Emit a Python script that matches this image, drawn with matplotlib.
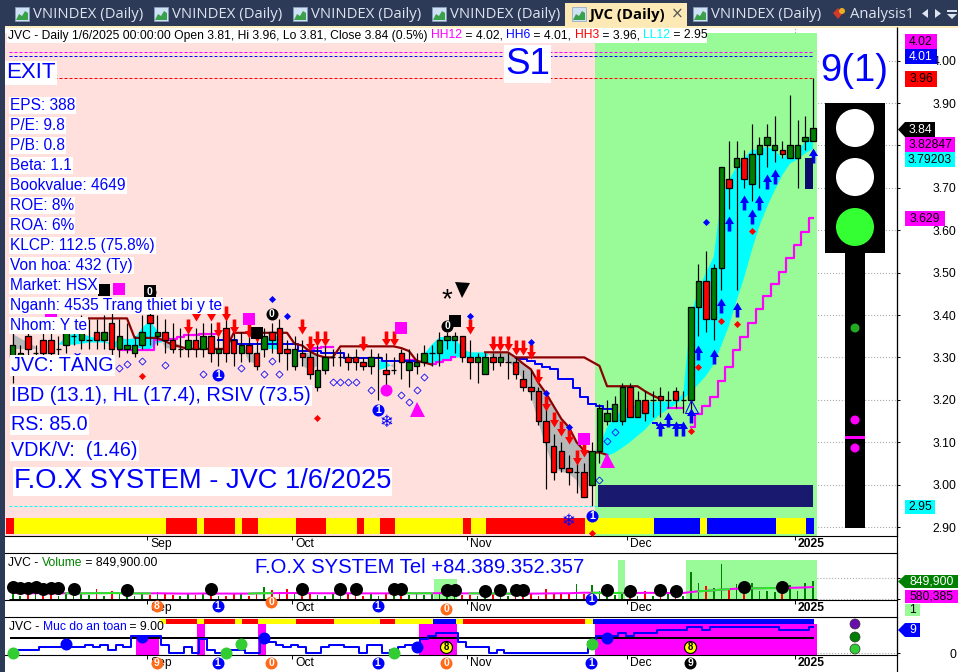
import numpy as np
import matplotlib
matplotlib.use('Agg')
import matplotlib.pyplot as plt
from matplotlib.patches import Rectangle, Polygon, Circle
from matplotlib.path import Path

plt.rcParams['font.family'] = ['Liberation Sans', 'DejaVu Sans']
N = float('nan')

# ---- candles, one row per session: open, high, low, close
ohlc = [
 (3.30,3.36,3.24,3.33),(3.30,3.33,3.28,3.31),(3.35,3.37,3.28,3.32),(3.31,3.33,3.28,3.31),(3.34,3.36,3.29,3.31),
 (3.34,3.36,3.29,3.31),(3.32,3.35,3.30,3.32),(3.33,3.39,3.31,3.36),(3.35,3.39,3.33,3.35),(3.34,3.40,3.32,3.36),
 (3.34,3.39,3.32,3.34),(3.36,3.39,3.32,3.34),(3.34,3.40,3.32,3.36),(3.38,3.41,3.30,3.32),(3.32,3.39,3.30,3.35),
 (3.32,3.38,3.31,3.33),(3.31,3.35,3.30,3.33),(3.33,3.40,3.32,3.36),(3.40,3.43,3.33,3.38),(3.35,3.40,3.33,3.36),
 (3.36,3.39,3.31,3.34),(3.34,3.38,3.31,3.32),(3.32,3.37,3.30,3.32),(3.32,3.37,3.30,3.34),(3.34,3.37,3.30,3.32),
 (3.32,3.38,3.30,3.35),(3.35,3.38,3.29,3.31),(3.31,3.36,3.28,3.32),(3.37,3.40,3.29,3.31),(3.34,3.37,3.28,3.31),
 (3.31,3.36,3.29,3.33),(3.33,3.37,3.29,3.31),(3.31,3.34,3.27,3.28),(3.32,3.37,3.30,3.35),(3.36,3.38,3.31,3.34),
 (3.37,3.39,3.29,3.31),(3.32,3.34,3.27,3.31),(3.28,3.35,3.27,3.32),(3.31,3.34,3.28,3.30),(3.30,3.34,3.25,3.26),
 (3.23,3.33,3.22,3.27),(3.27,3.33,3.26,3.30),(3.30,3.32,3.28,3.30),(3.30,3.32,3.28,3.30),(3.30,3.31,3.27,3.29),
 (3.30,3.32,3.27,3.29),(3.29,3.30,3.27,3.28),(3.28,3.32,3.26,3.30),(3.30,3.31,3.20,3.30),(3.27,3.31,3.23,3.26),
 (3.27,3.30,3.26,3.27),(3.31,3.32,3.25,3.29),(3.27,3.32,3.23,3.29),(3.28,3.31,3.26,3.29),(3.29,3.33,3.28,3.31),
 (3.31,3.33,3.28,3.31),(3.31,3.36,3.28,3.34),(3.34,3.36,3.32,3.35),(3.34,3.36,3.31,3.35),(3.35,3.35,3.29,3.30),
 (3.30,3.34,3.25,3.29),(3.29,3.31,3.24,3.30),(3.26,3.31,3.26,3.30),(3.30,3.31,3.27,3.29),(3.29,3.31,3.28,3.30),
 (3.29,3.31,3.25,3.29),(3.29,3.30,3.25,3.26),(3.25,3.27,3.22,3.23),(3.23,3.27,3.20,3.22),(3.22,3.23,3.14,3.15),
 (3.15,3.19,2.99,3.10),(3.09,3.12,3.01,3.03),(3.08,3.10,3.03,3.04),(3.04,3.07,3.00,3.03),(3.03,3.06,2.98,3.03),
 (3.03,3.05,2.97,2.97),(3.00,3.10,2.95,3.08),(3.08,3.19,3.05,3.18),(3.15,3.20,3.14,3.17),(3.15,3.21,3.15,3.19),
 (3.15,3.24,3.14,3.23),(3.23,3.24,3.16,3.16),(3.16,3.22,3.16,3.20),(3.20,3.22,3.15,3.17),(3.20,3.22,3.16,3.20),
 (3.21,3.23,3.16,3.20),(3.20,3.22,3.18,3.20),(3.22,3.23,3.18,3.20),(3.20,3.22,3.17,3.20),(3.20,3.42,3.17,3.42),
 (3.42,3.52,3.35,3.48),(3.48,3.55,3.36,3.39),(3.39,3.52,3.34,3.51),(3.51,3.75,3.46,3.75),(3.72,3.81,3.65,3.70),
 (3.75,3.81,3.46,3.77),(3.77,3.79,3.70,3.72),(3.71,3.85,3.67,3.78),(3.78,3.82,3.70,3.80),(3.80,3.85,3.75,3.82),
 (3.79,3.87,3.76,3.80),(3.79,3.81,3.77,3.78),(3.77,3.92,3.77,3.80),(3.77,3.86,3.70,3.80),(3.81,3.87,3.79,3.82),
 (3.81,3.96,3.81,3.84),
]

# cloud edges; fast above slow is cyan, below it grey
fast = [3.32,3.32,3.32,3.32,N,N,3.33,3.35,3.356,3.356,3.35,3.345,3.34,3.33,3.345,3.343,3.345,3.37,3.387,3.363,
        3.322,3.32,3.325,N,N,N,N,N,N,N,3.33,3.29,3.285,3.34,3.35,3.35,N,N,3.28,3.27,
        3.28,N,N,N,N,N,N,N,3.295,3.29,3.275,N,N,N,3.308,3.33,3.348,3.348,3.348,3.32,
        3.312,3.312,3.312,3.30,3.30,3.288,3.277,3.245,3.21,3.147,3.087,3.04,3.03,3.026,3.01,2.965,3.07,3.09,3.135,3.16,
        3.175,3.182,3.19,3.194,3.195,3.196,3.196,3.196,3.215,3.40,3.46,3.50,3.537,3.68,3.718,3.75,3.77,3.79,3.79,3.797,
        3.789,3.77,3.785,3.785,3.81,3.828]
slow = [3.355,3.345,3.335,3.325,N,N,3.33,3.33,3.33,3.332,3.335,3.335,3.335,3.33,3.32,3.32,3.325,3.32,3.318,3.335,
        3.335,3.335,3.33,N,N,N,N,N,N,N,3.33,3.31,3.308,3.32,3.32,3.318,N,N,3.312,3.31,
        3.31,N,N,N,N,N,N,N,3.27,3.275,3.285,N,N,N,3.285,3.287,3.29,3.295,3.30,3.30,
        3.30,3.30,3.30,3.312,3.312,3.312,3.30,3.285,3.272,3.24,3.215,3.185,3.155,3.135,3.10,3.08,3.075,3.08,3.068,3.075,
        3.087,3.10,3.115,3.13,3.15,3.166,3.178,3.19,3.202,3.218,3.237,3.257,3.284,3.328,3.375,3.434,3.489,3.553,3.61,3.655,
        3.694,3.73,3.757,3.767,3.781,3.792]

# line pieces as (first session, values)
brown = [(0, [3.392]*16 + [3.346,3.346,3.346,3.346,3.338,3.33,3.325,3.32,3.32,3.32,3.32,3.32,3.32]
            + [3.358]*8 + [3.332,3.328,3.314,3.305,3.30,3.30] + [3.326]*8 + [3.322,3.315,3.292,3.288,3.283]),
         (62, [3.312,3.312,3.312,3.312,3.30,3.285,3.272,3.24,3.215,3.185,3.155,3.135,3.10,3.08,3.075,3.076,3.07]),
         (66, [3.30]*10 + [3.29,3.28,3.232,3.232,3.232,3.232,3.232,3.22,3.21,3.202])]
blue_line = [(27, [3.34,3.34,3.34] + [3.332]*8 + [3.316]*3 + [3.31]*3 + [3.298]*5 + [3.292]*5),
             (66, [3.299,3.296,3.292,3.285,3.277,3.273,3.25,3.25,3.228,3.206,3.19,3.186,3.178,3.178]),
             (84, [3.145,3.14,3.14,3.14,3.14])]
magenta_line = [(14, [3.318]*5 + [3.34,3.34,3.344,3.347,3.352,3.352,3.356,3.356,3.356]),
                (39, [3.32,3.322,3.324,3.324]),
                (51, [3.295,3.295,3.295]),
                (55, [3.285,3.29,3.295,3.30]),
                (86, [3.18,3.18,3.18]),
                (89, [3.135,3.166,3.186,3.207,3.245,3.278,3.318,3.349,3.381,3.413,3.444,3.472,3.502,3.534,3.564,3.595,3.629])]

# signals: session, price
red_arrows = [(23,3.355),(24,3.385),(26,3.385),(27,3.348),(28,3.385),(29,3.355),(31,3.346),(32,3.336),(38,3.355),
              (39,3.316),(40,3.326),(41,3.326),(46,3.314),(49,3.326),(50,3.326),(60,3.355),(63,3.314),(64,3.314),
              (65,3.314),(66,3.305),(67,3.305),(68,3.296),(69,3.237),(70,3.174),(71,3.135),(72,3.115),(73,3.095),
              (74,3.046),(75,3.064)]
blue_arrows = [(85,3.15),(86,3.172),(87,3.15),(88,3.15),(89,3.18),(90,3.33),(92,3.32),(93,3.44),(95,3.43),(94,3.633),
               (96,3.682),(97,3.651),(98,3.682),(99,3.732),(100,3.744),(105,3.793)]
red_dots = [(97,3.597),(93,3.387),(95,3.378),(90,3.278),(89,3.127),(17,3.257),(40,3.158),(76,2.885)]
blue_dots = [(91,3.619),(34,3.437),(36,3.397),(60,3.397),(68,3.337),(70,3.217),(73,3.137)]
hollow_dots = [(14,3.274),(15,3.285),(17,3.292),(20,3.283),(25,3.262),(30,3.274),(33,3.262),(34,3.292),(35,3.262),
               (42,3.243),(43,3.243),(44,3.243),(45,3.243),(47,3.222),(51,3.212),(52,3.194),(53,3.222),(54,3.253),
               (78,3.103),(79,3.123),(77,3.011)]
magenta_squares = [(14,3.461),(31,3.391),(51,3.369),(75,3.108),(5,3.405)]
black_squares = [(12,3.459),(32,3.358),(58,3.386),(18,3.457)]
blue_ones = [(48,3.176),(76,2.926),(27,3.258)]
black_zeros = [(34,3.402),(57,3.374),(18,3.455)]

strip_colors = ['red','yellow','red','yellow','red','yellow','red','yellow','red','yellow','red','yellow','red','yellow',
                'red','yellow','red','yellow','blue','yellow','blue','yellow','blue']
strip_runs = [1,20,4,1,4,1,2,5,4,4,1,2,2,9,1,2,13,9,6,1,9,4,1]
top_strip_colors = ['yellow','red','yellow','red','yellow','red','yellow','red','yellow','red','yellow','blue','yellow','red','yellow','blue']
top_strip_runs = [1,4,1,4,1,2,5,5,6,2,5,3,1,16,1,29]

# volume in thousands of shares
volume = [283,140,235,235,140,190,140,330,190,283,190,470,140,380,283,140,140,283,190,330,
          235,190,140,283,190,283,190,140,140,235,283,140,235,566,425,330,470,283,190,283,
          190,140,235,235,283,235,140,283,140,283,235,235,190,235,190,283,283,190,190,190,
          190,140,190,235,140,140,140,235,283,140,470,235,283,283,708,235,660,380,190,190,
          283,140,140,380,140,140,235,140,140,1274,755,613,519,1650,425,708,283,755,380,380,
          330,283,660,380,755,849.9]
volume_ma = [300,295,290,285,285,280,280,285,280,280,285,290,290,295,290,285,280,280,280,285,
             280,275,270,270,270,275,275,270,270,270,270,270,280,290,290,295,295,295,290,290,
             285,285,285,285,285,285,280,280,280,280,285,285,285,280,285,285,290,285,285,280,
             280,280,275,275,270,270,270,270,270,270,280,280,285,285,300,310,310,305,300,300,
             300,300,300,305,305,300,300,300,300,340,380,400,420,460,480,500,510,520,520,530,
             530,530,540,550,560,580.385]
volume_green = [(7,18),(31,34),(50,55),(60,66),(76,80),(90,94),(97,100)]
volume_circles = [(0,570),(1,520),(2,520),(3,570),(4,470),(5,520),(6,520),(8,470),(15,420),(26,470),(38,470),(43,470),(45,470),
                  (50,470),(51,470),(57,420),(58,420),(62,380),(64,440),(66,440),(67,440),(78,440),(81,380),(85,440),(87,380),
                  (96,570),(101,570)]
volume_spans = [(55.3,58.3,0.45),(79.4,80.4,0.85),(88.4,105.55,0.85)]

# safety score per session
safety = [1,1,1,1,2,2,2,2,2,2,3,2,3,1,3,2,6,6,6,6,3,0,0,2,0,5,1,0,0,1,1,0,0,5,4,3,2,3,2,0,0,2,3,3,2,2,0,3,3,0,1,2,3,3,5,
          6,7,7,7,4,2,2,2,0,1,0,0,0,0,0,0,0,0,0,0,0,4,6,6,6,7,6,7,7,7,8,8,8,8,9,9,8,9,9,9,9,9,9,9,9,9,8,8,8,8,9]
safety_spans = [(16.2,19.2,0.55),(24.2,25.2,0.816),(32.2,33.2,0.816),(53.3,58.3,0.816),(76.4,105.55,0.816)]
safety_green = [(0,0),(28,0),(30,3.2),(50,0),(76,3.2)]
safety_blue = [(7,3.2),(17,5.6),(33,5.2),(53,2.2),(78,5.4)]

month_pos = [18,37,60,81,103]
month_labels = ['Sep','Oct','Nov','Dec','2025']
price_ticks = [2.90,3.00,3.10,3.20,3.30,3.40,3.50,3.60,3.70,3.80,3.90,4.00]

info_lines = ['EPS: 388','P/E: 9.8','P/B: 0.8','Beta: 1.1','Bookvalue: 4649','ROE: 8%','ROA: 6%','KLCP: 112.5 (75.8%)',
              'Von hoa: 432 (Ty)','Market: HSX','Nganh: 4535 Trang thiet bi y te','Nhom: Y te']

PINK = '#ffe0dc'
LIME = '#98fb98'
NAVY = '#2c3a57'
W, H = 958, 672

fig = plt.figure(figsize=(W/100, H/100), dpi=100, facecolor='white')
def pane(top, bottom):
    a = fig.add_axes([5/W, 1-bottom/H, 892/W, (bottom-top)/H])
    a.set_xlim(-1.01, 116.05)
    a.patch.set_alpha(0)
    for s in ['left','top']:
        a.spines[s].set_visible(False)
    ticks = [p-0.35 for p in month_pos]
    a.set_xticks(ticks, [''] * len(ticks))
    for t, lab in zip(ticks, month_labels):
        a.annotate(lab, xy=(t, 0), xycoords=a.get_xaxis_transform(), xytext=(2.2, -1.6), textcoords='offset points',
                   va='top', fontsize=8.7, fontweight='bold' if lab == '2025' else 'normal', annotation_clip=False)
    a.tick_params(axis='x', length=3, width=0.7)
    a.yaxis.tick_right()
    a.tick_params(axis='y', length=2.5, width=0.7, pad=40.5, labelsize=8.7)
    return a
def ms(px):
    return px*0.72

main = pane(27, 536)
vol = pane(553, 600)
safe = pane(617, 655)
vol.spines['top'].set_visible(True)
safe.spines['top'].set_visible(True)
ui = fig.add_axes([0, 0, 1, 1], zorder=20)
ui.set_xlim(0, W); ui.set_ylim(H, 0); ui.axis('off')

x = np.arange(len(ohlc))
o, h, l, c = [np.array(v) for v in zip(*ohlc)]

# main pane ------------------------------------------------------------
main.set_ylim(3.90-433/424, 3.90+76/424)
# 3.80 sits under the value tags in the reference, so its label stays blank
main.set_yticks(price_ticks, ['' if t == 3.80 else '%.2f' % t for t in price_ticks])
for lab in main.get_yticklabels():
    lab.set_ha('right')
main.grid(True, color='#aaaaaa', ls=':', lw=0.8)
main.set_axisbelow(True)
main.axvspan(-1.01, 76.4, 0, 0.988, color=PINK, lw=0, zorder=1)
main.axvspan(76.4, 105.55, 0, 0.988, color=LIME, lw=0, zorder=1)

f, s = np.array(fast), np.array(slow)
main.fill_between(x, s, f, where=f >= s, color='cyan', lw=0, zorder=2, interpolate=True)
main.fill_between(x, s, f, where=f <= s, color='#b8b8b8', lw=0, zorder=2, interpolate=True)

for start, vals in magenta_line:
    main.plot(range(start, start+len(vals)), vals, color='magenta', lw=ms(2.2), drawstyle='steps-mid', zorder=3)
for start, vals in blue_line:
    main.plot(range(start, start+len(vals)), vals, color='blue', lw=ms(2), drawstyle='steps-mid', zorder=3)
for start, vals in brown:
    main.plot(range(start, start+len(vals)), vals, color='#8b0000', lw=ms(2.2), zorder=3)

main.vlines(x, l, h, color='black', lw=ms(1.2), zorder=4)
colors = ['#008000' if b >= a else 'red' for a, b in zip(o, c)]
main.bar(x, c-o, bottom=o, width=0.72, color=colors, edgecolor='black', lw=ms(1.3), zorder=5)

# dashed levels
for level, col in [(4.02,'magenta'),(4.01,'blue'),(3.96,'red'),(2.95,'cyan')]:
    main.hlines(level, -0.5, 105.2, color=col, lw=ms(1), linestyles=(0,(3,2)), zorder=6)

# strip under the candles
pos = -0.85
cells, cell_cols = [], []
for col, run in zip(strip_colors, strip_runs):
    cells.append((pos, run)); cell_cols.append(col); pos += run
main.broken_barh(cells, (0.004, 0.031), facecolors=cell_cols, transform=main.get_xaxis_transform(), zorder=6)

down = Path([(0,0),(0.3,0.5),(0.12,0.5),(0.12,1),(-0.12,1),(-0.12,0.5),(-0.3,0.5),(0,0)])
up = Path([(0,0),(0.3,-0.5),(0.12,-0.5),(0.12,-1),(-0.12,-1),(-0.12,-0.5),(-0.3,-0.5),(0,0)])
def pts(a):
    return [p[0] for p in a], [p[1] for p in a]
main.plot(*pts(red_arrows), ls='', marker=down, ms=ms(30), mfc='red', mew=0, zorder=7)
main.plot(*pts(blue_arrows), ls='', marker=up, ms=ms(30), mfc='blue', mew=0, zorder=7)
main.plot(*pts(red_dots), ls='', marker='D', ms=ms(5), mfc='red', mew=0, zorder=7, clip_on=False)
main.plot(*pts(blue_dots), ls='', marker='D', ms=ms(5), mfc='blue', mew=0, zorder=7)
main.plot(*pts(hollow_dots), ls='', marker='D', ms=ms(5), mfc='none', mec='blue', mew=ms(0.8), zorder=7)
main.plot(*pts(magenta_squares), ls='', marker='s', ms=ms(12), mfc='magenta', mew=0, zorder=7)
main.plot(*pts(black_squares), ls='', marker='s', ms=ms(12), mfc='black', mew=0, zorder=7)
main.plot([49], [3.223], ls='', marker='o', ms=ms(12), mfc='magenta', mew=0, zorder=7)
main.plot([53,78], [3.178,3.058], ls='', marker='^', ms=ms(15), mfc='magenta', mew=0, zorder=7)
main.plot([89], [3.185], ls='', marker='^', ms=ms(13), mfc='none', mec='blue', mew=ms(1), zorder=7)
main.plot([59], [3.459], ls='', marker='v', ms=ms(15), mfc='black', mew=0, zorder=7)
main.text(57, 3.435, '*', fontsize=20, ha='center', va='center', zorder=8)
for i, p in [(49,3.148),(73,2.914)]:
    main.text(i, p, '\u2744', family='DejaVu Sans', color='blue', fontsize=12, ha='center', va='center', zorder=8)

def badge(ax, i, y, digit, col, trans=None, size=12, fg='white'):
    t = trans if trans is not None else ax.transData
    ax.scatter([i], [y], s=ms(size)**2, color=col, lw=0, zorder=9, transform=t, clip_on=False)
    ax.text(i, y, digit, transform=t, color=fg, fontsize=7.5, fontweight='bold', ha='center', va='center', zorder=10, clip_on=False)
for i, p in blue_ones:
    badge(main, i, p, '1', 'blue')
for i, p in black_zeros:
    badge(main, i, p, '0', 'black')

# volume pane ----------------------------------------------------------
vol.set_ylim(-33, 2185)
vol.set_yticks([0, 1000], ['', ''])
for a, b, top in volume_spans:
    vol.axvspan(a, b, 0, top, color=LIME, lw=0, zorder=1)
vol_cols = ['#008000' if cl >= op else 'red' for op, cl in zip(o, c)]
vol.bar(x, volume, width=0.22, color=vol_cols, lw=0, zorder=3)
vol.plot(x, volume_ma, color='magenta', lw=ms(2), zorder=4)
for a, b in volume_green:
    vol.plot(x[a:b+1], volume_ma[a:b+1], color='#22ee22', lw=ms(2), zorder=4)
vol.hlines(0, -0.5, 105.55, color='black', lw=ms(1), zorder=5)
vol.hlines([0, 1000], 105.55, 116.05, color='#aaaaaa', lw=0.8, linestyles=':')
vol.plot(*pts(volume_circles), ls='', marker='o', ms=ms(13), mfc='black', mew=0, zorder=6)

# safety pane ----------------------------------------------------------
safe.set_ylim(-0.59, 12.5)
safe.set_yticks([0], ['0'])
safe.get_yticklabels()[0].set_ha('right')
for a, b, top in safety_spans:
    safe.axvspan(a, b, 0, top, color='magenta', lw=0, zorder=1)
pos = 19.15
cells, cell_cols = [], []
for col, run in zip(top_strip_colors, top_strip_runs):
    cells.append((pos, run)); cell_cols.append(col); pos += run
safe.broken_barh(cells, (0.816, 0.139), facecolors=cell_cols, transform=safe.get_xaxis_transform(), zorder=2)
safe.hlines(5.4, -0.3, 105.2, color='black', lw=ms(2), zorder=3)
safe.hlines(0, 105.55, 116.05, color='#aaaaaa', lw=0.8, linestyles=':')
safe.plot(x, safety, color='blue', lw=ms(2), drawstyle='steps-mid', zorder=4)
safe.plot(*pts(safety_green), ls='', marker='o', ms=ms(12), mfc='#32cd32', mew=0, zorder=5, clip_on=False)
safe.plot(*pts(safety_blue), ls='', marker='o', ms=ms(12), mfc='blue', mew=0, zorder=5, clip_on=False)

ORANGE = '#ff6a1a'
vtr = vol.get_xaxis_transform()
for i, y, d, col in [(19,-0.13,'8',ORANGE),(27,-0.13,'1','blue'),(34,-0.05,'0',ORANGE),(48,-0.13,'1','blue'),(57,-0.2,'0',ORANGE),(76,0.03,'1','blue')]:
    badge(vol, i-0.1, y, d, col, trans=vtr)
str_tr = safe.get_xaxis_transform()
for i, d, col in [(19,'9',ORANGE),(27,'1','blue'),(34,'0',ORANGE),(48,'1','blue'),(57,'0',ORANGE),(76,'1','blue'),(89,'9','black')]:
    badge(safe, i-0.1, -0.2, d, col, trans=str_tr)
for i in [57, 89]:
    safe.scatter([i-0.1], [2.0], s=ms(12)**2, color='yellow', edgecolor='black', lw=ms(1.2), zorder=9)
    safe.text(i-0.1, 2.0, '8', color='black', fontsize=7, fontweight='bold', ha='center', va='center', zorder=10)

# window chrome and labels ---------------------------------------------
ui.add_patch(Rectangle((0,0), W, 26, color=NAVY, lw=0))
ui.add_patch(Rectangle((0,0), 5, H, color=NAVY, lw=0))
ui.add_patch(Rectangle((5,26), W-5, 1.5, color='#fdeebc', lw=0))
ui.add_patch(Rectangle((565,3), 122, 23.5, color='#fde9b5', lw=0))
for ix, tx, lab in [(15,33,'VNINDEX (Daily)'),(154,172,'VNINDEX (Daily)'),(293,311,'VNINDEX (Daily)'),(432,450,'VNINDEX (Daily)'),
                    (572,589,'JVC (Daily)'),(693,711,'VNINDEX (Daily)')]:
    ui.add_patch(Rectangle((ix,7), 14, 14, facecolor='#cfe2f5', edgecolor='#8aa0c0', lw=0.5))
    ui.add_patch(Polygon([(ix+1,20),(ix+4,14),(ix+7,16),(ix+10,11),(ix+13,13),(ix+13,20)], color='#3aa14a', lw=0))
    active = lab.startswith('JVC')
    ui.text(tx, 14.5, lab, family='Open Sans', fontsize=10.7, color='black' if active else '#dce4f0',
            fontweight='bold' if active else 'normal', va='center')
ui.text(677, 14, '\u00d7', family='DejaVu Sans', fontsize=11, color='#555555', ha='center', va='center')
ui.add_patch(Polygon([(833,13),(838,8),(843,13),(838,19)], color='#d0392b', lw=0))
ui.add_patch(Circle((842,11), 3, color='#e8b020', lw=0))
ui.text(850, 14.5, 'Analysis1', family='Open Sans', fontsize=10.7, color='#dce4f0', va='center')
ui.add_patch(Polygon([(928,9),(928,18),(922,13.5)], color='#dce4f0', lw=0))
ui.add_patch(Polygon([(935,9),(935,18),(941,13.5)], color='#dce4f0', lw=0))
ui.add_patch(Rectangle((947,10), 10, 1.5, color='#dce4f0', lw=0))
ui.add_patch(Polygon([(947,14),(957,14),(952,19)], color='#dce4f0', lw=0))
ui.vlines(897, 27, H, color='black', lw=ms(1.2))

fig.canvas.draw()
rend = fig.canvas.get_renderer()
def write_parts(x0, y, parts, size):
    prefix = ''
    for txt, col in parts:
        probe = ui.text(0, 0, prefix + '|', fontsize=size)
        bar_w = ui.text(0, 0, '|', fontsize=size)
        w = probe.get_window_extent(rend).width - bar_w.get_window_extent(rend).width if prefix else 0
        probe.remove(); bar_w.remove()
        ui.text(x0 + w, y, txt, color=col, fontsize=size, va='center')
        prefix += txt

ui.add_patch(Rectangle((7,28), 700, 15, color='white', lw=0))
write_parts(8, 35.5, [('JVC - Daily 1/6/2025 00:00:00 Open 3.81, Hi 3.96, Lo 3.81, Close 3.84 (0.5%) ','black'),('HH12','magenta'),(' = 4.02, ','black'),
                      ('HH6','blue'),(' = 4.01, ','black'),('HH3','red'),(' = 3.96, ','black'),('LL12','cyan'),(' = 2.95','black')], 8.7)
ui.add_patch(Rectangle((7,555), 153, 14, color='white', lw=0))
write_parts(8, 562.5, [('JVC - ','black'),('Volume','green'),(' = 849,900.00','black')], 8.7)
ui.add_patch(Rectangle((8,620), 153, 15, color='white', lw=0))
write_parts(9, 627.5, [('JVC - ','black'),('Muc do an toan','blue'),(' = 9.00','black')], 8.7)

def boxed(x0, y, txt, size, ha='left'):
    ui.text(x0, y, txt, color='blue', fontsize=size, ha=ha, va='center',
            bbox=dict(facecolor='white', edgecolor='none', pad=0.8))
boxed(6, 73, 'EXIT', 16)
boxed(505, 64, 'S1', 26.5)
boxed(820, 71, '9(1)', 27.5)
for n, line in enumerate(info_lines):
    boxed(10, 105.5+20*n, line, 11.2)
boxed(11, 365.5, 'JVC: T\u0102NG', 14.2)
boxed(11, 395.5, 'IBD (13.1), HL (17.4), RSIV (73.5)', 14.4)
boxed(11, 424.5, 'RS: 85.0', 14.2)
boxed(11, 450.5, 'VDK/V:  (1.46)', 14.2)
boxed(14, 481.5, 'F.O.X SYSTEM - JVC 1/6/2025', 19.6)
boxed(255, 567.5, 'F.O.X SYSTEM Tel +84.389.352.357', 14.6)

# traffic light
ui.add_patch(Rectangle((825,103), 60, 150, color='black', lw=0))
ui.add_patch(Rectangle((845,253), 20, 275, color='black', lw=0))
ui.add_patch(Circle((855,128), 19, color='white', lw=0))
ui.add_patch(Circle((855,177), 19, color='white', lw=0))
ui.add_patch(Circle((855,227), 19, color='#33ff33', lw=0))
ui.add_patch(Circle((855,328), 4.5, color='#22aa22', lw=0))
ui.add_patch(Circle((855,420), 4.5, color='magenta', lw=0))
ui.add_patch(Rectangle((845,435.5), 20, 3.5, color='magenta', lw=0))
ui.add_patch(Circle((855,448), 4.5, color='magenta', lw=0))
ui.add_patch(Rectangle((598,485), 215, 22, color='#191970', lw=0))
ui.add_patch(Rectangle((805,158), 8, 31, color='#0b0b6b', lw=0))
for cy, col in [(624,'#6a0dad'),(637,'#008000'),(649,'#32cd32')]:
    ui.add_patch(Circle((855,cy), 5, facecolor=col, edgecolor='#333333', lw=0.5))

# value tags beside the axis
def tag(x0, x1, y0, y1, txt, bg, fg='black'):
    ui.add_patch(Rectangle((x0,y0), x1-x0, y1-y0, color=bg, lw=0))
    ui.text((x0+x1)/2, (y0+y1)/2+0.3, txt, color=fg, fontsize=8.7, ha='center', va='center')
def flag(x1, y0, y1, txt, bg, fg='white'):
    ym = (y0+y1)/2
    ui.add_patch(Polygon([(898,ym),(905,y0),(x1,y0),(x1,y1),(905,y1)], color=bg, lw=0))
    ui.text((905+x1)/2, ym+0.3, txt, color=fg, fontsize=8.7, ha='center', va='center')
tag(905,937,34,49,'4.02','magenta')
tag(905,937,49,64,'4.01','blue','white')
tag(905,937,71,87,'3.96','red')
flag(935,122,137,'3.84','black')
tag(905,955,137,152,'3.82847','magenta')
tag(905,955,152,167,'3.79203','cyan')
tag(905,945,211,226,'3.629','magenta')
tag(905,935,500,514,'2.95','cyan')
flag(958,575,588,'849,900','#008000')
tag(905,958,590,603,'580,385','magenta')
tag(905,920,604,616,'1',LIME)
flag(920,623,637,'9','blue')

fig.savefig('out.png', dpi=100)
